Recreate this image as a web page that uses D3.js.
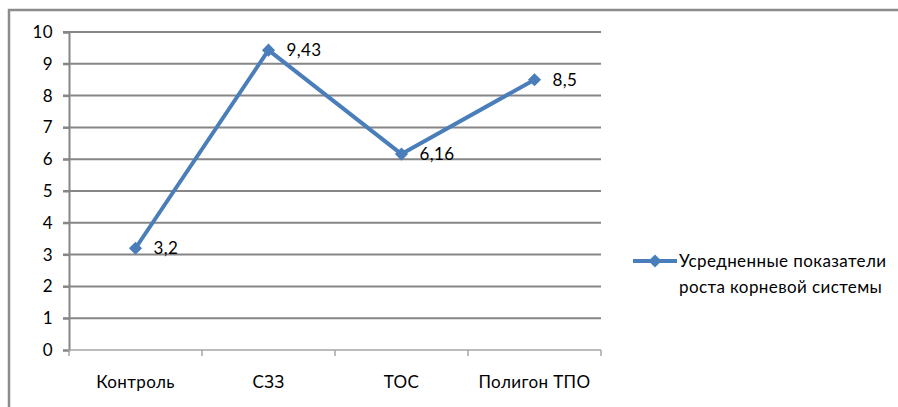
<!DOCTYPE html>
<html>
<head>
<meta charset="utf-8">
<script src="https://cdn.jsdelivr.net/npm/d3@7"></script>
<style>
  body { margin: 0; background: #fff; }
  text { font-family: Lato, "Open Sans", sans-serif; fill: #000; letter-spacing: 0.4px; }
</style>
</head>
<body>
<svg id="chart" width="898" height="407"></svg>
<script>
const categories = ["Контроль", "СЗЗ", "ТОС", "Полигон ТПО"];
const values = [3.2, 9.43, 6.16, 8.5];
const valueLabels = ["3,2", "9,43", "6,16", "8,5"];
const yTicks = [0, 1, 2, 3, 4, 5, 6, 7, 8, 9, 10];
const seriesName = ["Усредненные показатели", "роста корневой системы"];

const svg = d3.select("#chart");
const blue = "#4a7ebb";
const fs = "17px";

// outer frame (only top and left visible)
svg.append("path")
  .attr("d", "M9,407 V10 H898")
  .attr("fill", "none")
  .attr("stroke", "#8c8c8c")
  .attr("stroke-width", 2.5);

const x = d3.scaleBand().domain(categories).range([69, 601]);
const y = d3.scaleLinear().domain([0, 10]).range([350, 32]);

// gridlines
svg.append("g").selectAll("line")
  .data(yTicks.filter(d => d > 0))
  .enter().append("line")
  .attr("x1", 63).attr("x2", 601)
  .attr("y1", d => y(d)).attr("y2", d => y(d))
  .attr("stroke", "#868686")
  .attr("stroke-width", 2);

// y axis
let yAxis = svg.append("g")
  .attr("transform", "translate(69,0)")
  .call(d3.axisLeft(y).tickValues(yTicks).tickSize(6).tickPadding(10).tickFormat(d3.format("d")));
yAxis.select(".domain").attr("stroke", "#868686").attr("stroke-width", 2);
yAxis.selectAll(".tick line").attr("stroke", "#868686").attr("stroke-width", 2);
yAxis.selectAll("text").style("font-size", fs).style("font-family", "Lato, sans-serif").attr("fill", "#000");

// x axis
let xAxis = svg.append("g")
  .attr("transform", "translate(0,350)");
xAxis.append("line")
  .attr("x1", 69).attr("x2", 601)
  .attr("stroke", "#a6a6a6").attr("stroke-width", 1.5);
xAxis.selectAll(".tk")
  .data(categories.map(c => x(c)).concat([601]))
  .enter().append("line")
  .attr("x1", d => d).attr("x2", d => d)
  .attr("y1", 0).attr("y2", 6)
  .attr("stroke", "#a6a6a6").attr("stroke-width", 1.5);
xAxis.selectAll("text")
  .data(categories)
  .enter().append("text")
  .attr("x", d => x(d) + x.bandwidth() / 2)
  .attr("y", 38)
  .attr("text-anchor", "middle")
  .style("font-size", fs)
  .text(d => d);

// series line
const pts = categories.map((c, i) => [x(c) + x.bandwidth() / 2, y(values[i])]);
svg.append("path")
  .attr("d", d3.line()(pts))
  .attr("fill", "none")
  .attr("stroke", blue)
  .attr("stroke-width", 4)
  .attr("stroke-linejoin", "round");

const diamond = d3.symbol().type(d3.symbolDiamond2).size(110);
svg.selectAll(".mk")
  .data(pts)
  .enter().append("path")
  .attr("d", diamond)
  .attr("transform", d => `translate(${d[0]},${d[1]})`)
  .attr("fill", blue);

svg.selectAll(".lbl")
  .data(pts)
  .enter().append("text")
  .attr("x", d => d[0] + 18)
  .attr("y", d => d[1] + 6)
  .style("font-size", fs)
  .text((d, i) => valueLabels[i]);

// legend
let lg = svg.append("g");
lg.append("line")
  .attr("x1", 633).attr("x2", 677)
  .attr("y1", 261).attr("y2", 261)
  .attr("stroke", blue).attr("stroke-width", 4);
lg.append("path")
  .attr("d", diamond)
  .attr("transform", "translate(655,261)")
  .attr("fill", blue);
lg.selectAll("text")
  .data(seriesName)
  .enter().append("text")
  .attr("x", 679)
  .attr("y", (d, i) => 267 + i * 26)
  .style("font-size", fs)
  .text(d => d);
</script>
</body>
</html>
